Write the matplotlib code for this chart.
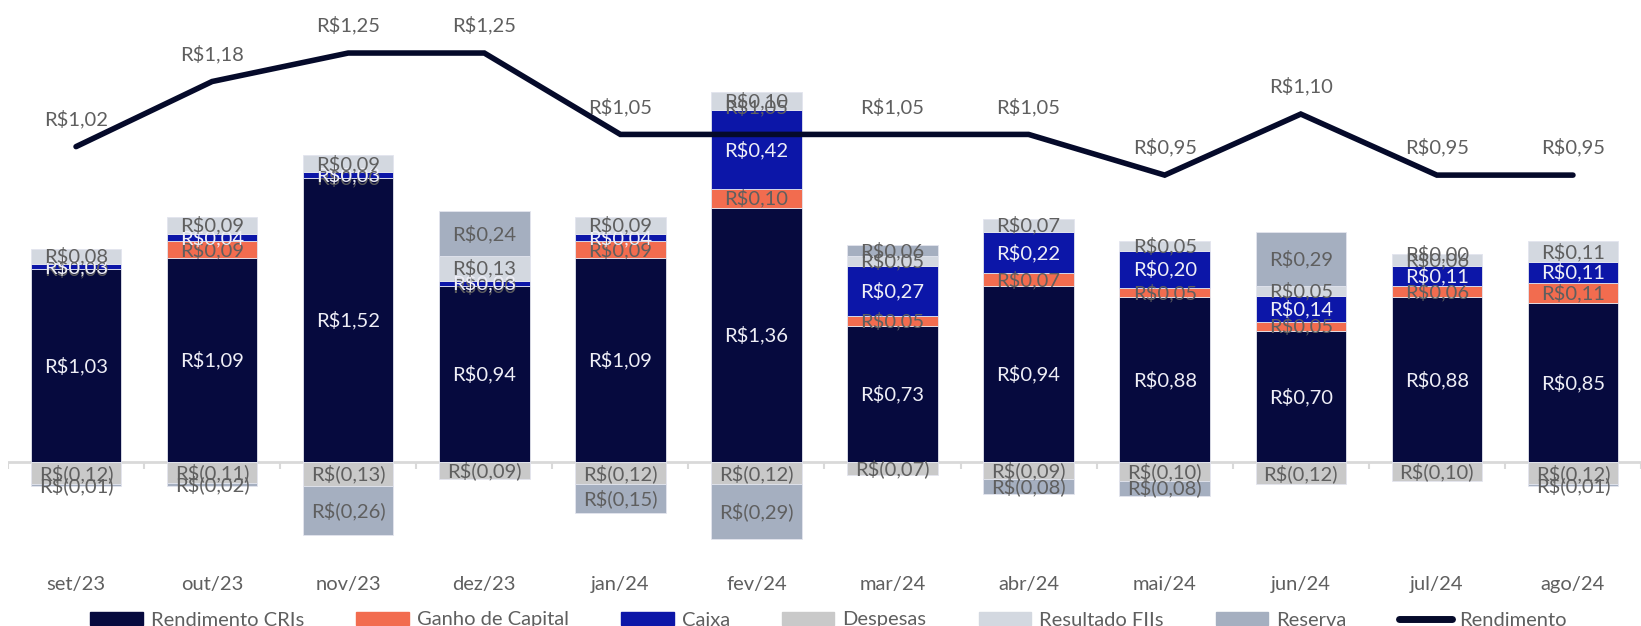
import numpy as np
import matplotlib.pyplot as plt
from matplotlib.patches import Patch
from matplotlib.lines import Line2D

plt.rcParams['font.family'] = ['Lato', 'DejaVu Sans']

meses = ["set/23", "out/23", "nov/23", "dez/23", "jan/24", "fev/24",
         "mar/24", "abr/24", "mai/24", "jun/24", "jul/24", "ago/24"]
rend_cris = [1.03, 1.09, 1.52, 0.94, 1.09, 1.36, 0.73, 0.94, 0.88, 0.70, 0.88, 0.85]
ganho_capital = [0.00, 0.09, 0.00, 0.00, 0.09, 0.10, 0.05, 0.07, 0.05, 0.05, 0.06, 0.11]
caixa = [0.03, 0.04, 0.03, 0.03, 0.04, 0.42, 0.27, 0.22, 0.20, 0.14, 0.11, 0.11]
resultado_fiis = [0.08, 0.09, 0.09, 0.13, 0.09, 0.10, 0.05, 0.07, 0.05, 0.05, 0.06, 0.11]
despesas = [-0.12, -0.11, -0.13, -0.09, -0.12, -0.12, -0.07, -0.09, -0.10, -0.12, -0.10, -0.12]
reserva = [-0.01, -0.02, -0.26, 0.24, -0.15, -0.29, 0.06, -0.08, -0.08, 0.29, 0.00, -0.01]
rendimento = [1.02, 1.18, 1.25, 1.25, 1.05, 1.05, 1.05, 1.05, 0.95, 1.10, 0.95, 0.95]

c_cri = "#060a3e"
c_ganho = "#f26c4f"
c_caixa = "#0c16a8"
c_desp = "#c9c9c9"
c_fii = "#d3d8e0"
c_res = "#a5afc0"
c_line = "#050a2a"
txt = "#5f5f5f"
light = "#eeeef6"
fs = 14.5


def fmt(v):
    s = f"{abs(v):.2f}".replace(".", ",")
    return f"R$({s})" if v < 0 else f"R${s}"


fig = plt.figure(figsize=(16.41, 6.26), dpi=100)
ax = fig.add_axes([8 / 1641, 0.1027, 1 - 8 / 1641, 0.992 - 0.1027])

x = np.arange(len(meses))
w = 0.665
edge = dict(edgecolor="#e3e5ee", linewidth=0.6)

cri = np.array(rend_cris)
gan = np.array(ganho_capital)
cx = np.array(caixa)
fii = np.array(resultado_fiis)
desp = np.array(despesas)
res = np.array(reserva)

# positivos empilhados para cima, despesas e reserva negativa para baixo
b_gan = cri
b_cx = cri + gan
b_fii = b_cx + cx
b_res = np.where(res >= 0, b_fii + fii, desp)

segs = [
    (cri, np.zeros(12), c_cri, light),
    (gan, b_gan, c_ganho, txt),
    (cx, b_cx, c_caixa, light),
    (fii, b_fii, c_fii, txt),
    (desp, np.zeros(12), c_desp, txt),
    (res, b_res, c_res, txt),
]

for vals, bottom, col, tc in segs:
    ax.bar(x, vals, w, bottom=bottom, color=col, **edge, zorder=2)

for vals, bottom, col, tc in segs:
    for xi, v, b in zip(x, vals, bottom):
        ax.text(xi, b + v / 2, fmt(v), ha="center", va="center",
                color=tc, fontsize=fs, zorder=3)

ax.axhline(0, color="#d9d9d9", lw=2, zorder=1)
ax.vlines(np.arange(-0.5, 12, 1), -0.035, 0, color="#d9d9d9", lw=1.5, zorder=1)

ax.set_xlim(-0.5, 11.5)
ax.set_ylim(-0.533, 2.444)
ax.set_xticks(x, meses)
ax.tick_params(axis="x", length=0, pad=10, labelsize=fs, labelcolor=txt)
ax.set_yticks([])
for s in ax.spines.values():
    s.set_visible(False)

ax2 = ax.twinx()
ax2.plot(x, rendimento, color=c_line, lw=4, solid_capstyle="round",
         solid_joinstyle="miter", zorder=4)
for xi, v in zip(x, rendimento):
    ax2.annotate(fmt(v), (xi, v), xytext=(0, 20), textcoords="offset points",
                 ha="center", va="center", color=txt, fontsize=fs)
ax2.set_ylim(0, 1.368)
ax2.set_yticks([])
for s in ax2.spines.values():
    s.set_visible(False)

handles = [
    Patch(color=c_cri, label="Rendimento CRIs"),
    Patch(color=c_ganho, label="Ganho de Capital"),
    Patch(color=c_caixa, label="Caixa"),
    Patch(color=c_desp, label="Despesas"),
    Patch(color=c_fii, label="Resultado FIIs"),
    Patch(color=c_res, label="Reserva"),
    Line2D([], [], color=c_line, lw=5, solid_capstyle="round", label="Rendimento"),
]
leg = fig.legend(handles=handles, loc="center", bbox_to_anchor=(0.505, 6 / 626),
                 ncol=7, frameon=False, fontsize=fs, handlelength=2.6,
                 handleheight=0.6, handletextpad=0.4, columnspacing=2.6)
for t in leg.get_texts():
    t.set_color(txt)

fig.savefig("out.png", dpi=100)
